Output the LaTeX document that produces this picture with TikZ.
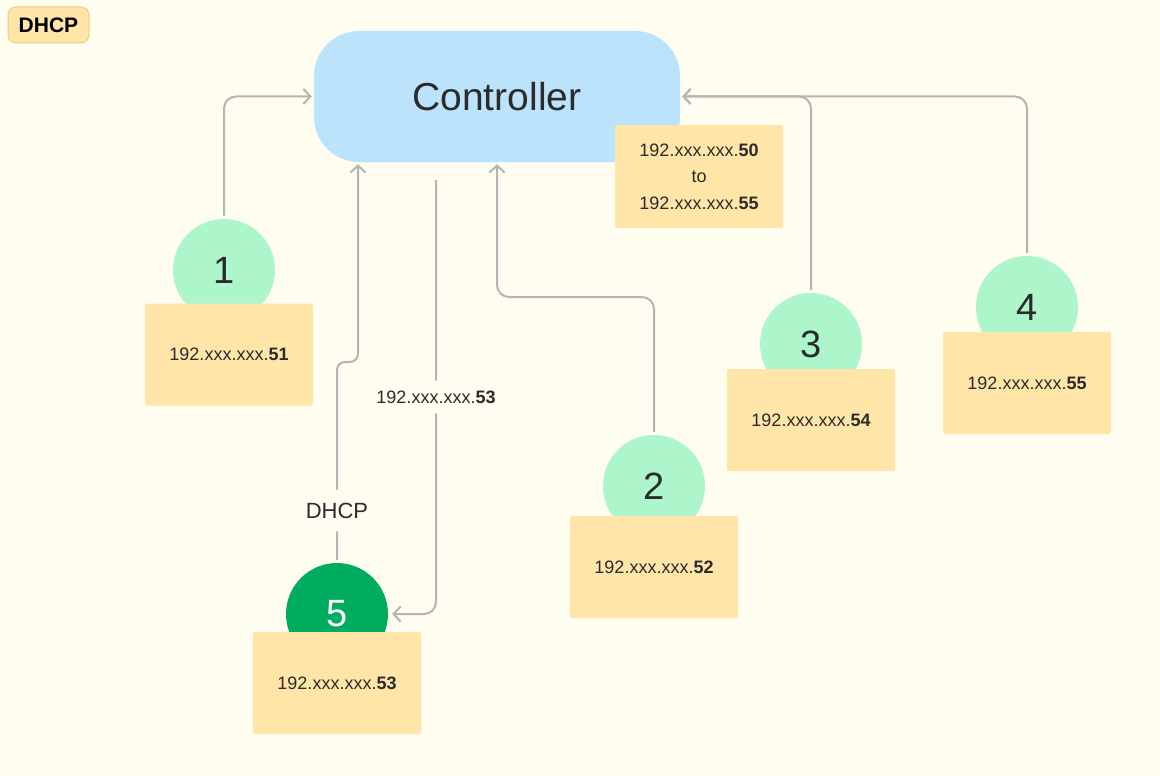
\documentclass[tikz,border=0pt]{standalone}
\usepackage{fontspec}
\setmainfont{Liberation Sans}
\usetikzlibrary{arrows.meta}

\definecolor{paper}{HTML}{FFFCF0}
\definecolor{ctrlblue}{HTML}{BCE3FC}
\definecolor{notepad}{HTML}{FFE6A8}
\definecolor{noteline}{HTML}{EACE84}
\definecolor{mint}{HTML}{ADF5CB}
\definecolor{leaf}{HTML}{00AD5F}
\definecolor{wire}{HTML}{B5B5B5}
\definecolor{ink}{HTML}{2B2B2B}

\newcommand{\ipaddr}[1]{192.xxx.xxx.\textbf{#1}}

\begin{document}
\begin{tikzpicture}[x=1pt,y=-1pt,
    every node/.style={text=ink},
    host/.style={circle,fill=mint,minimum size=102pt,inner sep=0pt,font=\fontsize{38}{40}\selectfont},
    ipbox/.style={rectangle,fill=notepad,rounded corners=2pt,minimum width=168pt,minimum height=102pt,font=\fontsize{18}{20}\selectfont},
    link/.style={wire,line width=2pt,rounded corners=12pt,-{Straight Barb[length=7pt,width=15pt]}}]
            \fill [paper] (0,0) rectangle (1160,776);

            \node [rectangle,fill=notepad,draw=noteline,line width=1pt,rounded corners=8pt,minimum width=81pt,minimum height=36pt,font=\fontsize{21}{23}\selectfont\bfseries,text=black] (tag) at (48.5,25) {DHCP};

            \node [rectangle,fill=ctrlblue,rounded corners=45pt,minimum width=366pt,minimum height=131pt,font=\fontsize{39}{41}\selectfont] (ctrl) at (497,96.5) {Controller};
            \node [ipbox,minimum height=103pt,align=center,font=\fontsize{18}{26.5}\selectfont] (pool) at (699,176.5) {\ipaddr{50}\\to\\\ipaddr{55}};

            \node [host] (c1) at (224,270) {1};
            \node [ipbox] (b1) at (229,354.5) {\ipaddr{51}};
            \node [host] (c2) at (654,486) {2};
            \node [ipbox] (b2) at (654,567) {\ipaddr{52}};
            \node [host] (c3) at (811,344) {3};
            \node [ipbox] (b3) at (811,420) {\ipaddr{54}};
            \node [host] (c4) at (1027,307) {4};
            \node [ipbox] (b4) at (1027,383) {\ipaddr{55}};
            \node [host,fill=leaf,text=white] (c5) at (337,614) {5};
            \node [ipbox] (b5) at (337,683) {\ipaddr{53}};

            \coordinate (jog) at (358,362);
            \coordinate (tap) at (436,180);
            \coordinate (bend) at (497,297);

            \draw [link,shorten <=3pt,shorten >=2pt] (c1.north) |- (ctrl.west);
            \draw [link,shorten <=3pt,shorten >=2pt] (c3.north) |- (ctrl.east);
            \draw [link,shorten <=3pt,shorten >=2pt] (c4.north) |- (ctrl.east);
            \draw [link,shorten <=3pt,shorten >=2pt] (c2.north) |- (bend) -- (ctrl.south);
            \draw [link,rounded corners=8pt,shorten <=3pt,shorten >=2pt] (c5.north)
                |- node [pos=0.13,fill=paper,inner xsep=4pt,inner ysep=13pt,font=\fontsize{22}{24}\selectfont] (dhcp) {DHCP} (jog)
                -- (jog |- ctrl.south);
            \draw [link,shorten >=4pt] (tap) |- node [pos=0.25,fill=paper,inner xsep=4pt,inner ysep=10pt,font=\fontsize{18}{20}\selectfont] (lease) {\ipaddr{53}} (c5.east);
        \end{tikzpicture}
\end{document}
